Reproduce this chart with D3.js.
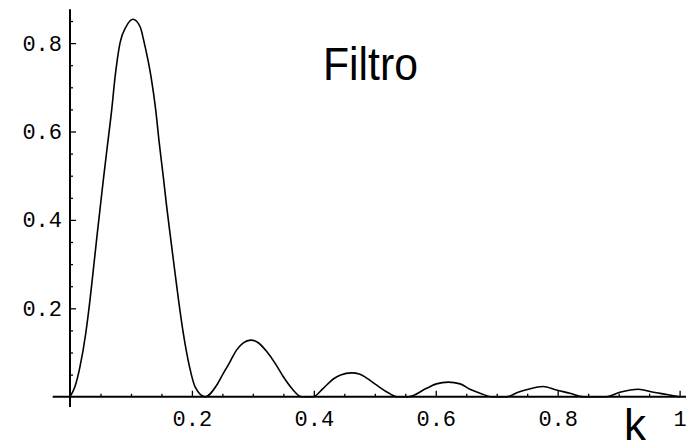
<!DOCTYPE html>
<html>
<head>
<meta charset="utf-8">
<script src="https://cdn.jsdelivr.net/npm/d3@7"></script>
<style>
  html, body { margin: 0; padding: 0; background: #fff; }
  svg { display: block; }
  .tick-label { font-family: 'Liberation Mono', 'Courier New', monospace; font-size: 22px; fill: #000; }
  .title { font-family: 'Liberation Sans', Arial, sans-serif; fill: #000; }
</style>
</head>
<body>
<div id="chart"></div>
<script>
// filter response (k, value)
const kVals = [
  0, 0.0082, 0.0164, 0.0258, 0.0328, 0.0388, 0.0448, 0.0497, 0.0553, 0.0618, 0.0684, 0.0740, 0.082, 0.092,
  0.1033, 0.115, 0.1219, 0.1329, 0.1406, 0.1465, 0.153, 0.1586, 0.1640, 0.1710, 0.1780, 0.1859, 0.1960, 0.2050, 0.222,
  0.2406, 0.2515, 0.2625, 0.2734, 0.2843, 0.2964, 0.3089, 0.3227, 0.3363, 0.350, 0.3637, 0.380,
  0.399, 0.4155, 0.432, 0.4440, 0.462, 0.4757, 0.4867, 0.503, 0.522, 0.536,
  0.555, 0.585, 0.601, 0.6206, 0.640, 0.656, 0.6726, 0.692,
  0.716, 0.735, 0.752, 0.776, 0.798, 0.82, 0.842,
  0.880, 0.902, 0.932, 0.957, 0.979, 1.0
];
const fVals = [
  0, 0.023, 0.068, 0.143, 0.219, 0.294, 0.370, 0.430, 0.498, 0.573, 0.649, 0.724, 0.800, 0.837,
  0.854, 0.837, 0.800, 0.724, 0.649, 0.573, 0.498, 0.430, 0.370, 0.294, 0.219, 0.143, 0.068, 0.023, 0,
  0.026, 0.053, 0.079, 0.106, 0.122, 0.128, 0.122, 0.102, 0.076, 0.045, 0.019, 0,
  0, 0.019, 0.040, 0.049, 0.054, 0.051, 0.042, 0.026, 0.009, 0,
  0, 0.019, 0.029, 0.033, 0.029, 0.017, 0.008, 0,
  0, 0.010, 0.017, 0.023, 0.015, 0.008, 0,
  0, 0.010, 0.017, 0.010, 0.005, 0
];

const xMajor = [0.2, 0.4, 0.6, 0.8, 1];
const xMinor = [0.05, 0.1, 0.15, 0.25, 0.3, 0.35, 0.45, 0.5, 0.55, 0.65, 0.7, 0.75, 0.85, 0.9, 0.95];
const yMajor = [0.2, 0.4, 0.6, 0.8];
const yMinor = [0.05, 0.1, 0.15, 0.25, 0.3, 0.35, 0.45, 0.5, 0.55, 0.65, 0.7, 0.75, 0.85];

const titleText = 'Filtro';
const xLabel = 'k';

const config = {
  width: 686,
  height: 442,
  xRange: [70, 679.6],
  yRange: [396.7, -45.3],
  xAxisExtent: [-0.0284, 1.0105],
  yAxisExtent: [-0.0233, 0.8765]
};

const data = kVals.map((k, i) => ({k: k, v: fVals[i]}));

const svg = d3.select('#chart').append('svg')
    .attr('width', config.width)
    .attr('height', config.height);

const x = d3.scaleLinear().domain([0, 1]).range(config.xRange);
const y = d3.scaleLinear().domain([0, 1]).range(config.yRange);

// axis lines, crossing at the origin
svg.append('line')
    .attr('x1', x(config.xAxisExtent[0])).attr('x2', x(config.xAxisExtent[1]))
    .attr('y1', y(0)).attr('y2', y(0))
    .attr('stroke', '#000').attr('stroke-width', 2);

svg.append('line')
    .attr('x1', x(0)).attr('x2', x(0))
    .attr('y1', y(config.yAxisExtent[0])).attr('y2', y(config.yAxisExtent[1]))
    .attr('stroke', '#000').attr('stroke-width', 2);

const fmt = d => d === 1 ? '1' : d3.format('.1f')(d);

// x ticks point up, labels below
const gx = svg.append('g').attr('transform', `translate(0,${y(0)})`);
gx.call(d3.axisBottom(x).tickValues(xMajor).tickSize(-6).tickSizeOuter(0).tickPadding(14).tickFormat(fmt));
gx.append('g').call(d3.axisBottom(x).tickValues(xMinor).tickSize(-3).tickSizeOuter(0).tickFormat(''));

// y ticks point right, labels left
const gy = svg.append('g').attr('transform', `translate(${x(0)},0)`);
gy.call(d3.axisLeft(y).tickValues(yMajor).tickSize(-6).tickSizeOuter(0).tickPadding(8).tickFormat(fmt));
gy.append('g').call(d3.axisLeft(y).tickValues(yMinor).tickSize(-3).tickSizeOuter(0).tickFormat(''));

svg.selectAll('.domain').remove();
svg.selectAll('.tick line').attr('stroke', '#000').attr('stroke-width', 1.3);
svg.selectAll('.tick text')
    .attr('class', 'tick-label')
    .attr('font-family', null)
    .attr('font-size', null);

// curve
const line = d3.line()
    .x(d => x(d.k))
    .y(d => y(d.v))
    .curve(d3.curveMonotoneX);

svg.append('path')
    .datum(data)
    .attr('fill', 'none')
    .attr('stroke', '#000')
    .attr('stroke-width', 1.6)
    .attr('d', line);

svg.append('text')
    .attr('class', 'title')
    .attr('x', 323)
    .attr('y', 80)
    .attr('font-size', 47)
    .attr('textLength', 95)
    .attr('lengthAdjust', 'spacingAndGlyphs')
    .text(titleText);

svg.append('text')
    .attr('class', 'title')
    .attr('x', 624)
    .attr('y', 440)
    .attr('font-size', 44)
    .text(xLabel);
</script>
</body>
</html>
